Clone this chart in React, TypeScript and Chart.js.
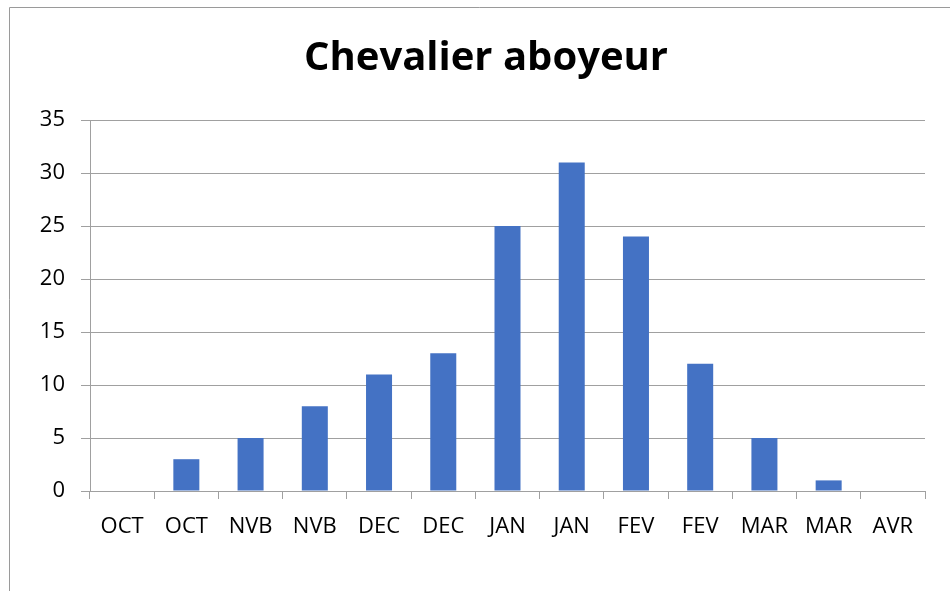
import React, { useEffect, useRef } from "react";
import { Chart, registerables } from "chart.js";
Chart.register(...registerables);

const categories = ["OCT", "OCT", "NVB", "NVB", "DEC", "DEC", "JAN", "JAN", "FEV", "FEV", "MAR", "MAR", "AVR"];
const counts = [0, 3, 5, 8, 11, 13, 25, 31, 24, 12, 5, 1, 0];
const titleText = "Chevalier aboyeur";
const yMax = 35;
const yStep = 5;

const FONT = "'Open Sans', 'Liberation Sans', sans-serif";

const decorPlugin = {
  id: "decor",
  beforeDraw(chart: any) {
    const ctx = chart.ctx;
    ctx.save();
    ctx.fillStyle = "#ffffff";
    ctx.fillRect(0, 0, chart.width, chart.height);
    ctx.strokeStyle = "#9a9a9a";
    ctx.lineWidth = 1;
    ctx.beginPath();
    ctx.moveTo(9.5, chart.height);
    ctx.lineTo(9.5, 7.5);
    ctx.lineTo(chart.width, 7.5);
    ctx.stroke();
    ctx.restore();
  },
  afterDraw(chart: any) {
    const ctx = chart.ctx;
    ctx.save();
    ctx.fillStyle = "#000000";
    ctx.font = `bold 40px ${FONT}`;
    ctx.textAlign = "center";
    ctx.textBaseline = "middle";
    ctx.fillText(titleText, 486, 59);
    ctx.restore();
  },
};

export default function App() {
  const ref = useRef<HTMLCanvasElement>(null);
  useEffect(() => {
    if (!ref.current) return;
    const chart = new Chart(ref.current, {
      type: "bar",
      data: {
        labels: categories,
        datasets: [
          {
            data: counts,
            backgroundColor: "#4472C4",
            barPercentage: 0.405,
            categoryPercentage: 1,
          },
        ],
      },
      options: {
        animation: false,
        responsive: false,
        layout: { padding: { left: 0, right: 25, top: 120, bottom: 0 } },
        plugins: { legend: { display: false }, title: { display: false }, tooltip: { enabled: false } },
        scales: {
          x: {
            afterFit(scale: any) {
              scale.height = 100;
            },
            grid: {
              offset: true,
              drawOnChartArea: false,
              drawTicks: true,
              tickLength: 8,
              color: "#a0a0a0",
            },
            border: { color: "#a0a0a0" },
            ticks: {
              color: "#000000",
              font: { family: FONT, size: 22 },
              padding: 15,
              maxRotation: 0,
              autoSkip: false,
            },
          },
          y: {
            min: 0,
            max: yMax,
            afterFit(scale: any) {
              scale.width = 90;
            },
            grid: { color: "#a0a0a0", tickLength: 9 },
            border: { color: "#a0a0a0" },
            ticks: {
              stepSize: yStep,
              color: "#000000",
              font: { family: FONT, size: 22 },
              padding: 16,
            },
          },
        },
      },
      plugins: [decorPlugin],
    });
    return () => chart.destroy();
  }, []);
  return (
    <div style={{ position: "absolute", left: 0, top: 0, width: 950, height: 591 }}>
      <canvas ref={ref} width={950} height={591} style={{ width: 950, height: 591, display: "block" }} />
    </div>
  );
}
